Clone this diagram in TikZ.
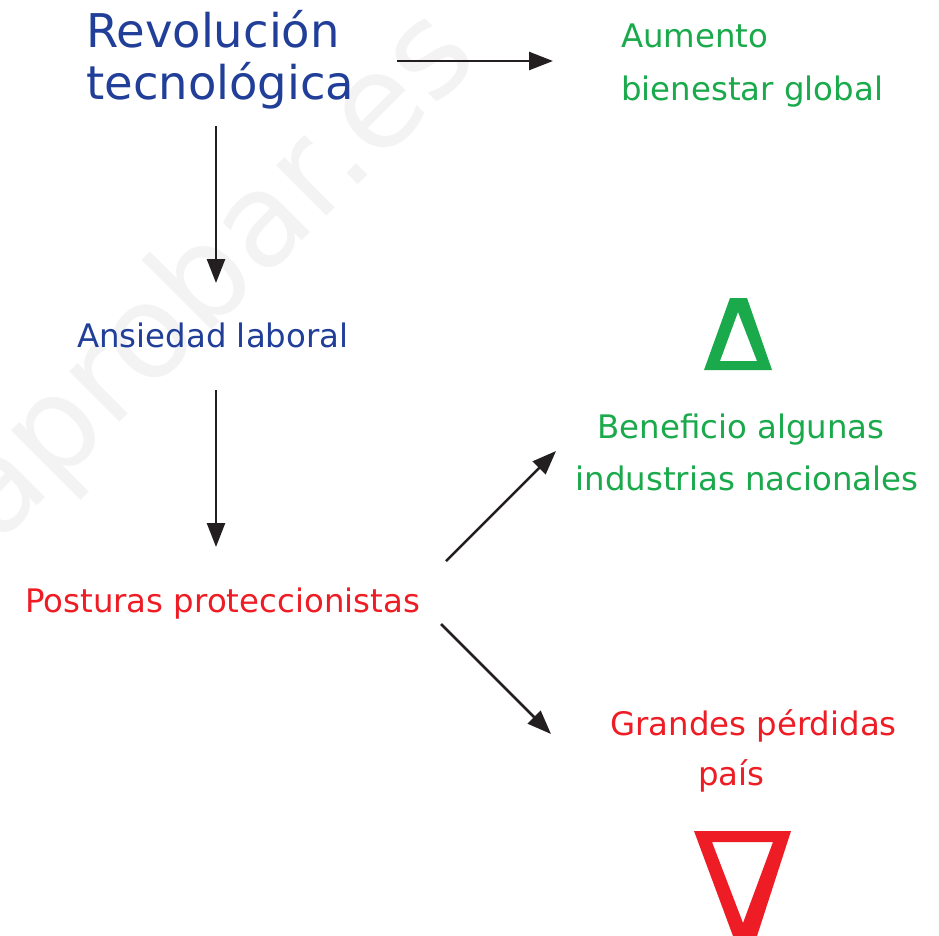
\documentclass[tikz,border=0pt]{standalone}
\usepackage{fontspec}
\setmainfont{DejaVu Sans}
\usetikzlibrary{arrows.meta}
\definecolor{cblue}{HTML}{213F99}
\definecolor{cgreen}{HTML}{1AAA4C}
\definecolor{cred}{HTML}{EE1D25}
\definecolor{cline}{HTML}{231F20}
\definecolor{cwm}{HTML}{F3F3F3}
\begin{document}
\begin{tikzpicture}[x=1pt,y=-1pt,
  big/.style={inner sep=0pt, text=cblue, font=\fontsize{46.5}{52}\selectfont},
  lbl/.style={inner sep=0pt, font=\fontsize{32.4}{52}\selectfont},
  arr/.style={draw=cline, line width=2.5pt, -{Triangle[length=24pt,width=18pt]}},
  tri/.style={even odd rule, draw=none}]
\fill[white] (0,0) rectangle (939,935);
\useasboundingbox (0,0) rectangle (939,935);
% watermark
\node[inner sep=0pt, rotate=45, text=cwm, font=\fontsize{130}{130}\selectfont] (wm) at (214,278) {aprobar.es};
% texts
\node[big, anchor=base west] (rev1) at (86,47) {Revolución};
\node[big, anchor=base west] (rev2) at (86,99) {tecnológica};
\node[lbl, text=cgreen, anchor=base west] (aum1) at (621,47) {Aumento};
\node[lbl, text=cgreen, anchor=base west] (aum2) at (621,100) {bienestar global};
\node[lbl, text=cblue, anchor=base west] (ans) at (77,347) {Ansiedad laboral};
\node[lbl, text=cred, anchor=base west] (pos) at (25,612) {Posturas proteccionistas};
\node[lbl, text=cgreen, anchor=base] (ben1) at (741,438) {Beneficio algunas};
\node[lbl, text=cgreen, anchor=base] (ben2) at (747,490) {industrias nacionales};
\node[lbl, text=cred, anchor=base] (gra1) at (753.5,735) {Grandes pérdidas};
\node[lbl, text=cred, anchor=base] (gra2) at (731.5,785) {país};
% connector ends
\coordinate (a1s) at (397,61);  \coordinate (a1e) at (553,61);
\coordinate (a2s) at (216,126); \coordinate (a2e) at (216,283);
\coordinate (a3s) at (216,390); \coordinate (a3e) at (216,547);
\coordinate (a4s) at (446,561); \coordinate (a4e) at (556,451);
\coordinate (a5s) at (441,624); \coordinate (a5e) at (551,734);
\draw[arr] (a1s) -- (a1e);
\draw[arr] (a2s) -- (a2e);
\draw[arr] (a3s) -- (a3e);
\draw[arr] (a4s) -- (a4e);
\draw[arr] (a5s) -- (a5e);
% triangles
\fill[cgreen, tri] (730,298) -- (747,298) -- (772,370) -- (704,370) -- cycle
  (738,312) -- (757,361) -- (720,361) -- cycle;
\fill[cred, tri] (694,831) -- (791,831) -- (757,936) -- (733,936) -- cycle
  (712,842) -- (773,842) -- (743,923) -- cycle;
\end{tikzpicture}
\end{document}
